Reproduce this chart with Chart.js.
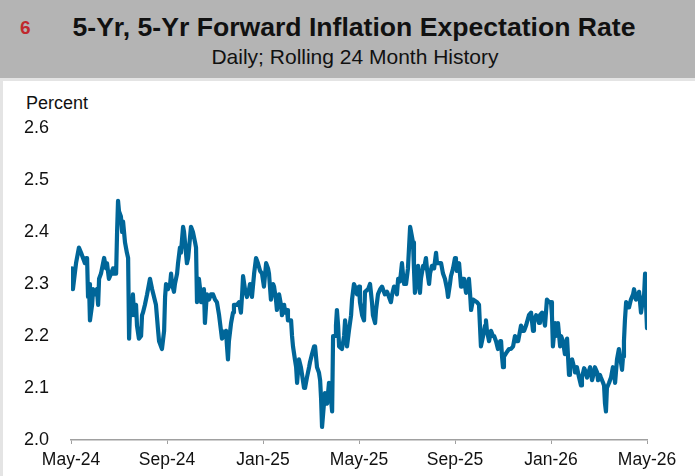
<!DOCTYPE html>
<html>
<head>
<meta charset="utf-8">
<script src="https://cdn.jsdelivr.net/npm/chart.js@4"></script>
<style>
  html, body { margin: 0; padding: 0; }
  body { width: 695px; height: 476px; background: #e4e4e4; position: relative; overflow: hidden; font-family: "Liberation Sans", Arial, sans-serif; }
  #header { position: absolute; left: 0; top: 0; width: 695px; height: 78px; background: #b4b4b4; }
  #num { position: absolute; left: 20px; top: 17px; font-size: 19px; font-weight: bold; color: #c0282d; }
  #title { position: absolute; left: 0; width: 708px; top: 12px; text-align: center; font-size: 26.6px; font-weight: bold; color: #111; }
  #subtitle { position: absolute; left: 0; width: 710px; top: 45px; text-align: center; font-size: 21px; color: #111; }
  #panel { position: absolute; left: 3px; top: 81px; width: 692px; height: 395px; background: #fff; }
  #unit { position: absolute; left: 26px; top: 93px; font-size: 18px; color: #111; }
  #wrap { position: absolute; left: 0; top: 80px; width: 695px; height: 396px; }
</style>
</head>
<body>
<div id="header">
  <div id="num">6</div>
  <div id="title">5-Yr, 5-Yr Forward Inflation Expectation Rate</div>
  <div id="subtitle">Daily; Rolling 24 Month History</div>
</div>
<div id="panel"></div>
<div id="unit">Percent</div>
<div id="wrap"><canvas id="chart"></canvas></div>
<script>
// months since May 2024
const monthOffset = [
  0.04, 0.08, 0.21, 0.33, 0.42, 0.50, 0.58, 0.63, 0.67, 0.71, 0.75, 0.79, 0.88, 0.92, 1.00, 1.08, 1.13, 1.17, 1.25, 1.38,
  1.46, 1.50, 1.58, 1.67, 1.75, 1.79, 1.88, 1.92, 1.96, 2.00, 2.08, 2.13, 2.17, 2.25, 2.33, 2.38, 2.42, 2.46, 2.50, 2.54,
  2.58, 2.63, 2.71, 2.75, 2.83, 2.92, 2.96, 3.00, 3.08, 3.17, 3.29, 3.38, 3.46, 3.54, 3.63, 3.67, 3.79, 3.88, 3.92, 3.96,
  4.04, 4.13, 4.17, 4.21, 4.29, 4.33, 4.42, 4.46, 4.54, 4.58, 4.67, 4.71, 4.79, 4.83, 4.88, 4.96, 5.00, 5.08, 5.17, 5.21,
  5.25, 5.33, 5.38, 5.42, 5.50, 5.54, 5.58, 5.63, 5.67, 5.75, 5.83, 5.92, 6.00, 6.08, 6.17, 6.25, 6.29, 6.38, 6.46, 6.50,
  6.54, 6.58, 6.67, 6.75, 6.79, 6.92, 7.00, 7.08, 7.13, 7.17, 7.25, 7.33, 7.42, 7.46, 7.54, 7.63, 7.71, 7.79, 7.88, 7.96,
  8.04, 8.13, 8.21, 8.25, 8.33, 8.42, 8.46, 8.54, 8.58, 8.67, 8.75, 8.79, 8.88, 8.92, 9.00, 9.04, 9.17, 9.21, 9.25, 9.33,
  9.38, 9.42, 9.50, 9.58, 9.63, 9.71, 9.75, 9.83, 9.92, 9.96, 10.04, 10.13, 10.17, 10.25, 10.33, 10.38, 10.42, 10.46, 10.54, 10.58,
  10.67, 10.71, 10.75, 10.83, 10.88, 10.92, 11.00, 11.04, 11.08, 11.13, 11.17, 11.29, 11.38, 11.42, 11.50, 11.58, 11.67, 11.71, 11.79, 11.88,
  11.92, 12.00, 12.04, 12.13, 12.21, 12.25, 12.38, 12.46, 12.54, 12.58, 12.67, 12.71, 12.79, 12.88, 12.96, 13.00, 13.08, 13.17, 13.25, 13.33,
  13.38, 13.46, 13.54, 13.58, 13.63, 13.71, 13.79, 13.83, 13.88, 13.96, 14.04, 14.13, 14.17, 14.25, 14.29, 14.33, 14.38, 14.46, 14.50, 14.54,
  14.58, 14.67, 14.71, 14.79, 14.83, 14.92, 14.96, 15.04, 15.13, 15.21, 15.25, 15.33, 15.42, 15.50, 15.58, 15.67, 15.71, 15.79, 15.83, 15.92,
  16.00, 16.04, 16.08, 16.17, 16.25, 16.29, 16.38, 16.46, 16.54, 16.58, 16.63, 16.67, 16.75, 16.79, 16.92, 17.00, 17.08, 17.17, 17.25, 17.29,
  17.33, 17.42, 17.50, 17.58, 17.63, 17.71, 17.79, 17.88, 17.92, 17.96, 18.00, 18.04, 18.13, 18.25, 18.33, 18.42, 18.50, 18.58, 18.63, 18.71,
  18.75, 18.83, 18.88, 18.96, 19.08, 19.17, 19.25, 19.29, 19.38, 19.46, 19.50, 19.54, 19.63, 19.71, 19.75, 19.83, 19.92, 20.00, 20.04, 20.08,
  20.17, 20.21, 20.25, 20.29, 20.38, 20.42, 20.50, 20.58, 20.67, 20.75, 20.79, 20.88, 20.96, 21.00, 21.08, 21.17, 21.25, 21.29, 21.38, 21.46,
  21.50, 21.63, 21.71, 21.79, 21.83, 21.92, 21.96, 22.04, 22.08, 22.17, 22.21, 22.25, 22.29, 22.33, 22.42, 22.50, 22.58, 22.63, 22.67, 22.75,
  22.83, 22.88, 22.96, 23.00, 23.04, 23.08, 23.13, 23.21, 23.25, 23.33, 23.42, 23.46, 23.50, 23.54, 23.63, 23.67, 23.75, 23.83, 23.88, 23.92,
  23.96, 24.00
];

const rate = [
  2.33, 2.29, 2.34, 2.37, 2.36, 2.35, 2.34, 2.35, 2.35, 2.275, 2.30, 2.23, 2.26, 2.29, 2.28, 2.29, 2.26, 2.31, 2.32, 2.35,
  2.33, 2.34, 2.31, 2.32, 2.33, 2.32, 2.32, 2.40, 2.46, 2.44, 2.43, 2.40, 2.42, 2.38, 2.36, 2.35, 2.195, 2.25, 2.27, 2.24,
  2.28, 2.24, 2.26, 2.22, 2.195, 2.20, 2.24, 2.245, 2.26, 2.28, 2.31, 2.29, 2.275, 2.26, 2.21, 2.19, 2.175, 2.21, 2.275, 2.30,
  2.29, 2.30, 2.32, 2.30, 2.285, 2.30, 2.32, 2.34, 2.37, 2.36, 2.41, 2.40, 2.36, 2.34, 2.35, 2.39, 2.41, 2.40, 2.38, 2.37,
  2.265, 2.31, 2.29, 2.265, 2.28, 2.29, 2.225, 2.26, 2.28, 2.27, 2.28, 2.28, 2.27, 2.265, 2.24, 2.21, 2.195, 2.20, 2.21, 2.18,
  2.155, 2.19, 2.225, 2.245, 2.26, 2.26, 2.265, 2.245, 2.28, 2.315, 2.29, 2.275, 2.29, 2.30, 2.275, 2.32, 2.35, 2.34, 2.325, 2.32,
  2.295, 2.34, 2.33, 2.32, 2.27, 2.30, 2.295, 2.27, 2.25, 2.28, 2.26, 2.24, 2.26, 2.245, 2.25, 2.23, 2.23, 2.20, 2.18, 2.155,
  2.14, 2.11, 2.155, 2.14, 2.125, 2.10, 2.10, 2.12, 2.14, 2.15, 2.165, 2.18, 2.18, 2.14, 2.13, 2.115, 2.08, 2.025, 2.07, 2.09,
  2.07, 2.09, 2.11, 2.08, 2.055, 2.20, 2.20, 2.22, 2.25, 2.22, 2.18, 2.175, 2.20, 2.23, 2.18, 2.21, 2.24, 2.27, 2.30, 2.29,
  2.28, 2.295, 2.265, 2.24, 2.23, 2.285, 2.29, 2.30, 2.265, 2.24, 2.225, 2.25, 2.28, 2.29, 2.295, 2.29, 2.28, 2.285, 2.275, 2.265,
  2.28, 2.295, 2.29, 2.28, 2.31, 2.305, 2.34, 2.32, 2.30, 2.30, 2.33, 2.41, 2.40, 2.38, 2.33, 2.283, 2.30, 2.335, 2.31, 2.283,
  2.31, 2.335, 2.33, 2.35, 2.33, 2.30, 2.32, 2.335, 2.33, 2.36, 2.34, 2.34, 2.34, 2.32, 2.31, 2.29, 2.275, 2.30, 2.315, 2.33,
  2.35, 2.34, 2.325, 2.34, 2.295, 2.31, 2.31, 2.283, 2.30, 2.31, 2.28, 2.25, 2.27, 2.27, 2.265, 2.26, 2.18, 2.20, 2.22, 2.23,
  2.21, 2.19, 2.21, 2.20, 2.20, 2.19, 2.175, 2.19, 2.19, 2.16, 2.14, 2.16, 2.167, 2.175, 2.175, 2.18, 2.20, 2.19, 2.19, 2.21,
  2.22, 2.21, 2.21, 2.22, 2.24, 2.245, 2.21, 2.23, 2.24, 2.23, 2.225, 2.24, 2.245, 2.23, 2.22, 2.27, 2.265, 2.265, 2.24, 2.18,
  2.225, 2.20, 2.22, 2.225, 2.18, 2.20, 2.19, 2.165, 2.195, 2.125, 2.15, 2.155, 2.14, 2.13, 2.14, 2.12, 2.105, 2.12, 2.138, 2.13,
  2.12, 2.14, 2.115, 2.13, 2.14, 2.13, 2.115, 2.125, 2.12, 2.11, 2.105, 2.07, 2.055, 2.10, 2.11, 2.12, 2.14, 2.13, 2.11, 2.155,
  2.175, 2.16, 2.135, 2.16, 2.19, 2.23, 2.265, 2.26, 2.255, 2.27, 2.28, 2.29, 2.28, 2.27, 2.28, 2.285, 2.245, 2.27, 2.28, 2.32,
  2.26, 2.215
];

const tickMonths = [0, 4, 8, 12, 16, 20, 24];
const tickLabels = ['May-24', 'Sep-24', 'Jan-25', 'May-25', 'Sep-25', 'Jan-26', 'May-26'];

const initInflationChart = (ctx) => {
    const data = {
        datasets: [{
            label: '5-Yr, 5-Yr Forward Inflation Expectation Rate',
            data: monthOffset.map((m, i) => ({ x: m, y: rate[i] })),
            borderColor: '#006699',
            borderWidth: 4.2,
            borderJoinStyle: 'round',
            borderCapStyle: 'round',
            pointRadius: 0,
            tension: 0,
            fill: false
        }]
    };

    const config = {
        type: 'line',
        data: data,
        options: {
            responsive: true,
            maintainAspectRatio: false,
            animation: false,
            layout: { padding: { left: 0, right: 48, top: 48, bottom: 0 } },
            plugins: {
                legend: { display: false },
                tooltip: { enabled: false }
            },
            scales: {
                x: {
                    type: 'linear',
                    min: 0,
                    max: 24,
                    afterBuildTicks: (scale) => { scale.ticks = tickMonths.map(v => ({ value: v })); },
                    afterFit: (scale) => { scale.height = 36; },
                    border: { display: true, color: '#a0a0a0', width: 1.5 },
                    grid: { display: true, drawOnChartArea: false, drawTicks: true, tickLength: 4, color: '#a0a0a0', lineWidth: 1 },
                    ticks: {
                        autoSkip: false,
                        maxRotation: 0,
                        padding: 6,
                        color: '#111',
                        font: { family: '"Liberation Sans", Arial', size: 17.5 },
                        callback: (v, i) => tickLabels[i]
                    }
                },
                y: {
                    min: 2.0,
                    max: 2.6,
                    afterFit: (scale) => { scale.width = 71; },
                    border: { display: false },
                    grid: { display: false },
                    ticks: {
                        stepSize: 0.1,
                        padding: 14,
                        color: '#111',
                        font: { family: '"Liberation Sans", Arial', size: 18 },
                        callback: (v) => v.toFixed(1)
                    }
                }
            }
        }
    };

    return new Chart(ctx, config);
};

initInflationChart(document.getElementById('chart'));
</script>
</body>
</html>
